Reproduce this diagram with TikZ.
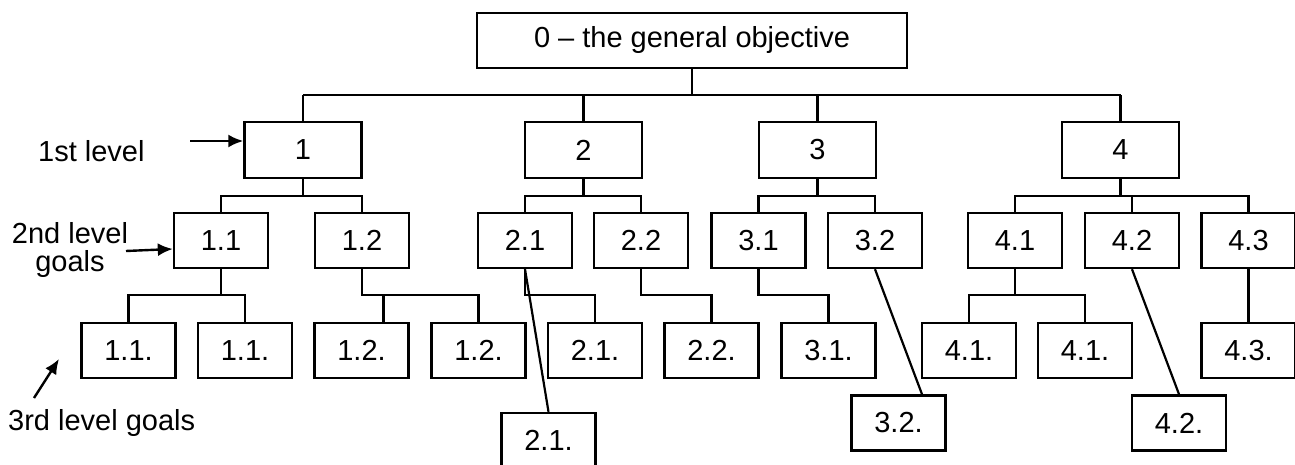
\documentclass[tikz,border=0pt]{standalone}
\usepackage{fontspec}
\setmainfont{Liberation Sans}
\usetikzlibrary{arrows.meta}

\begin{document}
\begin{tikzpicture}[x=1pt,y=-1pt,
  goal/.style={draw, line width=2.4pt, minimum width=94pt, minimum height=55pt,
               inner sep=0pt, font=\fontsize{29}{30}\selectfont},
  topgoal/.style={goal, minimum width=430pt},
  lvlone/.style={goal, minimum width=117pt, minimum height=56pt},
  link/.style={line width=2.2pt},
  pointer/.style={line width=2.4pt, -{Latex[length=15pt,width=13pt]}},
  sidelabel/.style={inner sep=0pt, font=\fontsize{29}{28}\selectfont}]

\useasboundingbox (0,0) rectangle (1295,465);

% bus levels
\coordinate (busA) at (0,95);
\coordinate (busB) at (0,196);
\coordinate (busC) at (0,295);

% general objective
\node[topgoal] (g0) at (692,40.5) {0 -- the general objective};

% first level
\node[lvlone] (g1) at (303,150) {1};
\node[lvlone] (g2) at (583.5,150) {2};
\node[lvlone] (g3) at (817.5,150) {3};
\node[lvlone] (g4) at (1120.5,150) {4};

% second level
\node[goal] (g11) at (221,240.5) {1.1};
\node[goal] (g12) at (362,240.5) {1.2};
\node[goal] (g21) at (525,240.5) {2.1};
\node[goal] (g22) at (641,240.5) {2.2};
\node[goal] (g31) at (758.5,240.5) {3.1};
\node[goal] (g32) at (875,240.5) {3.2};
\node[goal] (g41) at (1015,240.5) {4.1};
\node[goal] (g42) at (1132,240.5) {4.2};
\node[goal] (g43) at (1248.5,240.5) {4.3};

% third level
\node[goal] (g11a) at (128.5,350.5) {1.1.};
\node[goal] (g11b) at (245,350.5) {1.1.};
\node[goal] (g12a) at (361.5,350.5) {1.2.};
\node[goal] (g12b) at (478.5,350.5) {1.2.};
\node[goal] (g21a) at (595,350.5) {2.1.};
\node[goal] (g22a) at (711.5,350.5) {2.2.};
\node[goal] (g31a) at (828.5,350.5) {3.1.};
\node[goal] (g41a) at (969,350.5) {4.1.};
\node[goal] (g41b) at (1085,350.5) {4.1.};
\node[goal] (g43a) at (1248.5,350.5) {4.3.};

% lower third-level boxes
\node[goal] (g21b) at (548.5,440.5) {2.1.};
\node[goal] (g32a) at (898.5,423) {3.2.};
\node[goal] (g42a) at (1179,423) {4.2.};

% objective -> first level
\draw[link] (g0.south) -- (g0.south |- busA);
\draw[link] (g1.north |- busA) -- (g4.north |- busA);
\foreach \n in {g1,g2,g3,g4} \draw[link] (\n.north) -- (\n.north |- busA);

% first level -> second level
\draw[link] (g1.south) -- (g1.south |- busB);
\draw[link] (g11.north) |- (g12.north |- busB) -- (g12.north);
\draw[link] (g2.south) -- (g2.south |- busB);
\draw[link] (g21.north) |- (g22.north |- busB) -- (g22.north);
\draw[link] (g3.south) -- (g3.south |- busB);
\draw[link] (g31.north) |- (g32.north |- busB) -- (g32.north);
\draw[link] (g4.south) -- (g4.south |- busB);
\draw[link] (g41.north) |- (g43.north |- busB) -- (g43.north);
\draw[link] (g42.north) -- (g42.north |- busB);

% second level -> third level
\draw[link] (g11.south) -- (g11.south |- busC);
\draw[link] (g11a.north) |- (g11b.north |- busC) -- (g11b.north);
\draw[link] (g12.south) |- (g12b.north |- busC) -- (g12b.north);
\draw[link] ([xshift=22pt]g12a.north) -- ([xshift=22pt]g12a.north |- busC);
\draw[link] (g21.south) |- (g21a.north |- busC) -- (g21a.north);
\draw[link] (g22.south) |- (g22a.north |- busC) -- (g22a.north);
\draw[link] (g31.south) |- (g31a.north |- busC) -- (g31a.north);
\draw[link] (g41.south) -- (g41.south |- busC);
\draw[link] (g41a.north) |- (g41b.north |- busC) -- (g41b.north);
\draw[link] (g43.south) -- (g43a.north);

% slanted links to the lower boxes
\draw[link] (g21.south) -- (g21b.north);
\draw[link] (g32.south) -- ([xshift=23.5pt]g32a.north);
\draw[link] (g42.south) -- (g42a.north);

% level captions and their pointers
\node[sidelabel, anchor=base west] (cap1) at (38,162) {1st level};
\coordinate (p1) at (190,141);
\draw[pointer] (p1) -- (p1 -| g1.west);

\begin{scope}
  \clip (0,200) rectangle (170,278);
  \node[sidelabel, align=center, anchor=north] (cap2) at (70,222)
       {2nd level\\goals};
\end{scope}
\coordinate (p2) at (126,251);
\draw[pointer] (p2) -- ([yshift=-8.5pt]g11.west);

\node[sidelabel, anchor=base west] (cap3) at (8,430) {3rd level goals};
\coordinate (p3) at (34,398);
\coordinate (p3end) at (59,359);
\draw[pointer] (p3) -- (p3end);

\end{tikzpicture}
\end{document}
